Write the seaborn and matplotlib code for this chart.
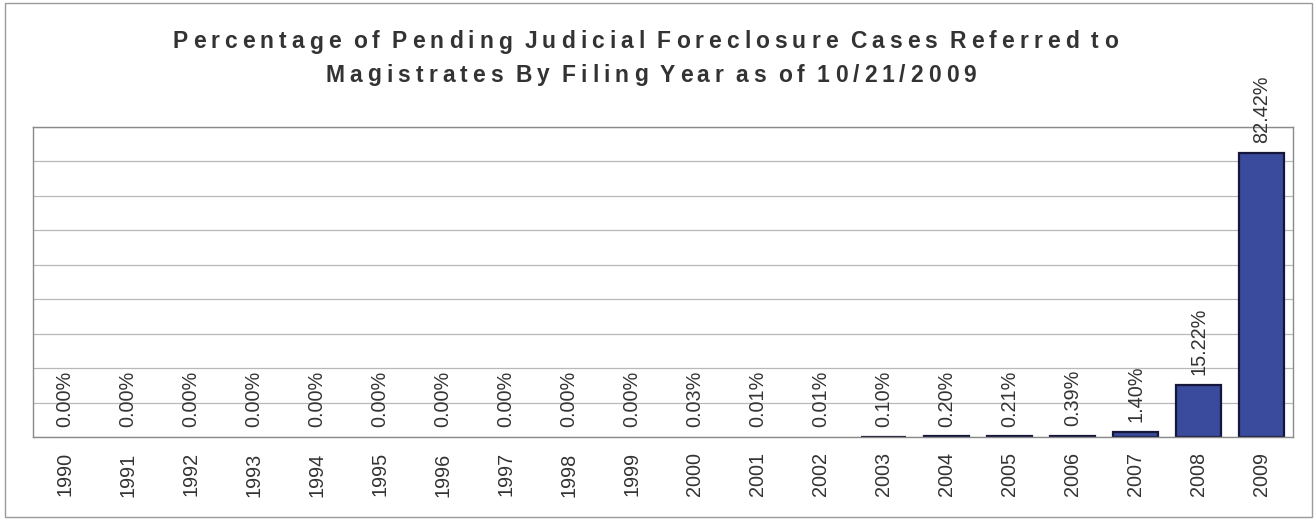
import matplotlib
matplotlib.use("Agg")
import matplotlib.pyplot as plt
from matplotlib.font_manager import FontProperties
from matplotlib.patches import Rectangle
import seaborn as sns

# values
years = [str(y) for y in range(1990, 2010)]
percent = [0.00, 0.00, 0.00, 0.00, 0.00, 0.00, 0.00, 0.00, 0.00, 0.00,
           0.03, 0.01, 0.01, 0.10, 0.20, 0.21, 0.39, 1.40, 15.22, 82.42]
title_lines = ["Percentage of Pending Judicial Foreclosure Cases Referred to",
               "Magistrates By Filing Year as of 10/21/2009"]

TEXT = "#333333"
BAR = "#3a4a9c"


def tracked_text(fig, line, y, size, track, cx, space_cut=4.0):
    """Draw a line of text with extra letter spacing (pixels), centred at cx (px)."""
    fp = FontProperties(family="Liberation Sans", weight="bold", size=size)
    r = fig.canvas.get_renderer()
    base = r.get_text_width_height_descent("x", fp, ismath=False)[0]

    def w(s):
        return r.get_text_width_height_descent(s + "x", fp, ismath=False)[0] - base

    # left edge of each glyph
    lefts = []
    pos = 0.0
    for i, ch in enumerate(line):
        lefts.append(pos)
        adv = w(line[:i + 1]) - w(line[:i]) + track
        if ch == " ":
            adv -= space_cut
        pos += adv
    total = pos - track
    x0 = cx - total / 2
    W = fig.bbox.width
    for ch, left in zip(line, lefts):
        if ch == " ":
            continue
        fig.text((x0 + left) / W, y, ch, fontproperties=fp,
                 color=TEXT, va="center", ha="left")


def main():
    sns.set_style("white")
    plt.rcParams["font.family"] = ["Liberation Sans", "DejaVu Sans"]

    fig = plt.figure(figsize=(13.15, 5.19), dpi=100)
    ax = fig.add_axes([0.0251, 0.158, 0.9582, 0.5975])

    sns.barplot(x=years, y=percent, order=years, color=BAR, edgecolor="#15173a",
                linewidth=1.6, width=0.7, saturation=1, ax=ax)

    # Excel hides the outline of bars that round to nothing
    for patch, v in zip(ax.containers[0], percent):
        if v < 0.05:
            patch.set_linewidth(0)

    ax.set_ylim(0, 90)
    ax.set_xlim(-0.5, len(years) - 0.5)
    ax.set_yticks(range(0, 91, 10))
    ax.set_yticklabels([])
    ax.tick_params(axis="y", length=0)
    ax.yaxis.grid(True, color="#b8b8b8", linewidth=0.9)
    ax.set_axisbelow(True)
    ax.set_xlabel("")
    ax.set_ylabel("")

    # category labels, with tick marks between categories (Excel style)
    ax.tick_params(axis="x", which="major", length=0, pad=11, labelsize=14.3,
                   labelcolor=TEXT, labelrotation=90)
    ax.set_xticks([i + 0.5 for i in range(-1, len(years))], minor=True)
    ax.tick_params(axis="x", which="minor", length=6, width=1, color="#8a8a8a",
                   direction="out")

    for side in ["top", "right", "left", "bottom"]:
        ax.spines[side].set_color("#8a8a8a")
        ax.spines[side].set_linewidth(1)

    ax.bar_label(ax.containers[0], labels=[f"{v:.2f}%" for v in percent],
                 rotation=90, padding=7, fontsize=14.3, color=TEXT, clip_on=False)

    tracked_text(fig, title_lines[0], 1 - 42 / 519, 16.5, 5.0, 645)
    tracked_text(fig, title_lines[1], 1 - 75 / 519, 16.5, 5.0, 651)

    fig.patches.append(Rectangle((5 / 1315, 2 / 519), 1307 / 1315, 514 / 519,
                                 transform=fig.transFigure, fill=False,
                                 edgecolor="#9a9a9a", linewidth=1))

    fig.savefig("out.png", dpi=100, facecolor="white")


if __name__ == "__main__":
    main()
